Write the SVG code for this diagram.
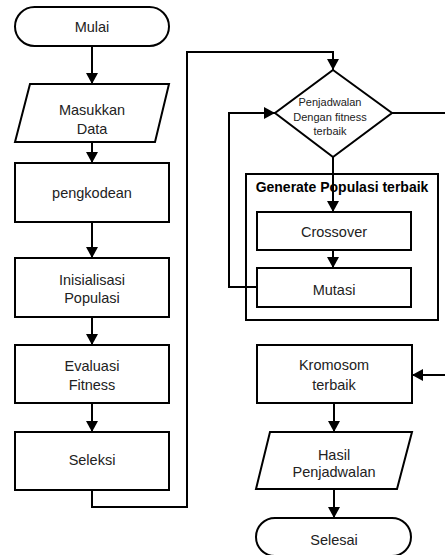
<svg xmlns="http://www.w3.org/2000/svg" width="445" height="555" viewBox="0 0 445 555">
<style>
.s{fill:#fff;stroke:#000;stroke-width:2}
.t{font-family:"Liberation Sans",Arial,sans-serif;font-size:14.5px;fill:#222;text-anchor:middle;dominant-baseline:central}
.sm{font-size:11px}
.b{font-weight:bold;font-size:14px;fill:#000}
.c{fill:none;stroke:#000;stroke-width:2}
</style>
<defs>
<marker id="ah" markerUnits="userSpaceOnUse" markerWidth="12" markerHeight="12" refX="11" refY="6" orient="auto">
<path d="M0,0 L11,6 L0,12 z" fill="#000"/>
</marker>
</defs>
<g id="connectors">
<line class="c" x1="92" y1="46" x2="92" y2="84" marker-end="url(#ah)"/>
<line class="c" x1="92" y1="142" x2="92" y2="163" marker-end="url(#ah)"/>
<line class="c" x1="92" y1="222" x2="92" y2="258" marker-end="url(#ah)"/>
<line class="c" x1="92" y1="317" x2="92" y2="345" marker-end="url(#ah)"/>
<line class="c" x1="92" y1="403" x2="92" y2="432" marker-end="url(#ah)"/>
<polyline class="c" points="92,490 92,507 187,507 187,52 333,52 333,70" marker-end="url(#ah)"/>
<line class="c" x1="392" y1="113" x2="446" y2="113"/>
<line class="c" x1="333" y1="157" x2="333" y2="212" marker-end="url(#ah)"/>
<line class="c" x1="333" y1="250" x2="333" y2="268" marker-end="url(#ah)"/>
<polyline class="c" points="257,287 229,287 229,113 275,113" marker-end="url(#ah)"/>
<line class="c" x1="446" y1="375" x2="412" y2="375" marker-end="url(#ah)"/>
<line class="c" x1="334" y1="403" x2="334" y2="432" marker-end="url(#ah)"/>
<line class="c" x1="334" y1="489" x2="334" y2="518" marker-end="url(#ah)"/>
</g>
<g id="mulai">
<rect class="s" x="15" y="7" width="154" height="39" rx="19.5"/>
<text class="t" x="92" y="27">Mulai</text>
</g>
<g id="masukkan">
<polygon class="s" points="30,84 169,84 155,142 15,142"/>
<text class="t" x="92" y="110">Masukkan</text>
<text class="t" x="92" y="129">Data</text>
</g>
<g id="pengkodean">
<rect class="s" x="15" y="163" width="154" height="59"/>
<text class="t" x="92" y="193">pengkodean</text>
</g>
<g id="inisialisasi">
<rect class="s" x="15" y="258" width="154" height="59"/>
<text class="t" x="92" y="280">Inisialisasi</text>
<text class="t" x="92" y="298">Populasi</text>
</g>
<g id="evaluasi">
<rect class="s" x="15" y="345" width="154" height="58"/>
<text class="t" x="92" y="366">Evaluasi</text>
<text class="t" x="92" y="385">Fitness</text>
</g>
<g id="seleksi">
<rect class="s" x="15" y="432" width="154" height="58"/>
<text class="t" x="92" y="460">Seleksi</text>
</g>
<g id="penjadwalan">
<polygon class="s" points="333,70 392,113 333,157 275,113"/>
<text class="t sm" x="330" y="102">Penjadwalan</text>
<text class="t sm" x="330" y="117">Dengan fitness</text>
<text class="t sm" x="330" y="131">terbaik</text>
</g>
<g id="generate">
<rect x="246" y="174" width="192" height="146" fill="none" stroke="#000" stroke-width="2"/>
<text class="t b" x="342" y="187">Generate Populasi terbaik</text>
</g>
<g id="crossover">
<rect class="s" x="257" y="212" width="154" height="38"/>
<text class="t" x="334" y="232">Crossover</text>
</g>
<g id="mutasi">
<rect class="s" x="257" y="268" width="154" height="39"/>
<text class="t" x="334" y="290">Mutasi</text>
</g>
<g id="kromosom">
<rect class="s" x="257" y="345" width="155" height="58"/>
<text class="t" x="334" y="365">Kromosom</text>
<text class="t" x="334" y="385">terbaik</text>
</g>
<g id="hasil">
<polygon class="s" points="270,432 412,432 397,489 256,489"/>
<text class="t" x="334" y="455">Hasil</text>
<text class="t" x="334" y="472">Penjadwalan</text>
</g>
<g id="selesai">
<rect class="s" x="256" y="518" width="155" height="38" rx="19"/>
<text class="t" x="334" y="540">Selesai</text>
</g>
</svg>
